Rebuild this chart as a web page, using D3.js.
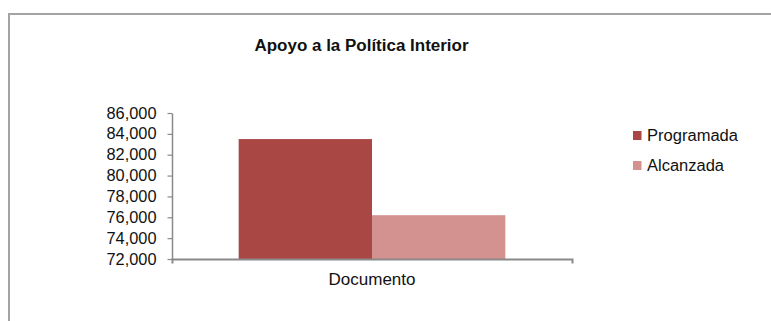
<!DOCTYPE html>
<html><head><meta charset="utf-8">
<script src="https://cdn.jsdelivr.net/npm/d3@7"></script>
<style>body{margin:0;background:#fff}svg{display:block;font-family:"Liberation Sans",Arial,sans-serif}</style>
</head><body><svg id="c" width="771" height="321"></svg>
<script>
const categories = ["Documento"];
const seriesNames = ["Programada", "Alcanzada"];
const programada = [83500];
const alcanzada = [76200];
const yTicks = [72000, 74000, 76000, 78000, 80000, 82000, 84000, 86000];
const colors = ["#A94745", "#D39190"];

(function(){
const svg = d3.select("#c");
svg.append("path").attr("d", "M9,321 V14 H771").attr("fill", "none").attr("stroke", "#a3a3a3").attr("stroke-width", 2);

svg.append("text").attr("x", 361.5).attr("y", 50.5).attr("text-anchor", "middle")
  .attr("font-weight", "bold").attr("font-size", 16).attr("fill", "#111")
  .attr("textLength", 214).attr("lengthAdjust", "spacingAndGlyphs").text("Apoyo a la Política Interior");

const pl = 172, pr = 572, pt = 113, pb = 259;
const y = d3.scaleLinear().domain([72000, 86000]).range([pb, pt]);
const x0 = d3.scaleBand().domain(categories).range([pl, pr]).paddingInner(0).paddingOuter(0.25);
const x1 = d3.scaleBand().domain(seriesNames).range([0, x0.bandwidth()]);

const data = categories.map((c, i) => ({c, vals: [programada[i], alcanzada[i]]}));
const g = svg.append("g");
data.forEach(d => {
  d.vals.forEach((v, j) => {
    g.append("rect").attr("x", x0(d.c) + x1(seriesNames[j])).attr("width", x1.bandwidth())
      .attr("y", y(v)).attr("height", pb - y(v)).attr("fill", colors[j]);
  });
});

const yAxis = svg.append("g").attr("transform", `translate(${pl},0)`)
  .call(d3.axisLeft(y).tickValues(yTicks).tickSize(4.5).tickPadding(11).tickSizeOuter(0).tickFormat(d3.format(",")));
yAxis.select(".domain").attr("stroke", "#898989").attr("stroke-width", 1.5);
yAxis.selectAll(".tick line").attr("stroke", "#898989").attr("stroke-width", 1.2);
yAxis.selectAll("text").attr("font-size", 16).attr("fill", "#111").attr("font-family", "Liberation Sans, Arial, sans-serif")
  .attr("textLength", 50).attr("lengthAdjust", "spacingAndGlyphs");

const xAxis = svg.append("g").attr("transform", `translate(0,${pb})`)
  .call(d3.axisBottom(x0).tickSize(0).tickPadding(15).tickSizeOuter(4.5));
xAxis.select(".domain").attr("stroke", "#898989").attr("stroke-width", 2);
xAxis.selectAll("text").attr("font-size", 16).attr("fill", "#111").attr("font-family", "Liberation Sans, Arial, sans-serif")
  .attr("textLength", 87).attr("lengthAdjust", "spacingAndGlyphs");

const legW = [91, 77];
const leg = svg.append("g");
seriesNames.forEach((n, i) => {
  const ly = 135.5 + i * 30;
  leg.append("rect").attr("x", 633).attr("y", ly - 4.5).attr("width", 8.5).attr("height", 9).attr("fill", colors[i]);
  leg.append("text").attr("x", 647).attr("y", ly + 5.3).attr("font-size", 16).attr("fill", "#111")
    .attr("textLength", legW[i]).attr("lengthAdjust", "spacingAndGlyphs").text(n);
});
})();
</script></body></html>
